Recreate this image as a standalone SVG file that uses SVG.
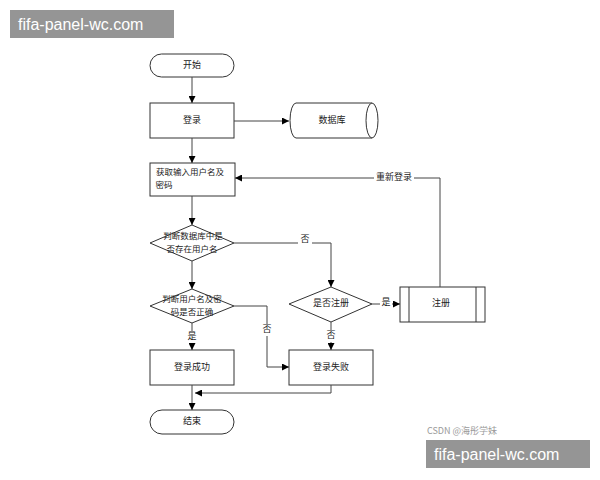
<svg xmlns="http://www.w3.org/2000/svg" width="600" height="480" viewBox="0 0 600 480">
<defs>
<marker id="a" viewBox="0 0 10 10" refX="10" refY="5" markerWidth="7" markerHeight="7" orient="auto"><path d="M0,0 L10,5 L0,10 z" fill="#000"/></marker>
<style>
.s{fill:#fff;stroke:#333;stroke-width:1}
.t{font-family:"Noto Sans CJK SC","Liberation Sans",sans-serif;font-size:9px;fill:#222;text-anchor:middle;dominant-baseline:middle}
.u{font-size:8.5px}
.c{fill:none;stroke:#444;stroke-width:1;marker-end:url(#a)}
.w{font-family:"Liberation Sans",sans-serif;font-size:16px;fill:#fff}
</style>
</defs>
<rect width="600" height="480" fill="#fff"/>
<g id="start"><rect class="s" x="150" y="54" width="84" height="23" rx="11.5"/><text class="t" x="192" y="66">开始</text></g>
<g id="login"><rect class="s" x="150" y="103" width="84" height="35"/><text class="t" x="192" y="121">登录</text></g>
<g id="db"><path class="s" d="M296,103 H372 A6,17.5 0 0 1 372,138 H296 A6,17.5 0 0 1 296,103 Z"/><path class="s" d="M372,103 A6,17.5 0 0 0 372,138" fill="none"/><text class="t" x="332" y="121">数据库</text></g>
<g id="input"><rect class="s" x="150" y="163" width="85" height="33"/><text class="t u" x="190" y="173">获取输入用户名及</text><text class="t u" x="164" y="186">密码</text></g>
<g id="d1"><polygon class="s" points="150,243 192,225 234,243 192,261"/><text class="t u" x="193" y="237">判断数据库中是</text><text class="t u" x="192" y="250">否存在用户名</text></g>
<g id="d2"><polygon class="s" points="150,306 192,289 234,306 192,323"/><text class="t u" x="192" y="300">判断用户名及密</text><text class="t u" x="192" y="313">码是否正确</text></g>
<g id="ok"><rect class="s" x="150" y="350" width="84" height="35"/><text class="t" x="192" y="368">登录成功</text></g>
<g id="end"><rect class="s" x="150" y="410" width="84" height="24" rx="12"/><text class="t" x="192" y="422">结束</text></g>
<g id="d3"><polygon class="s" points="289,304 331,287 372,304 331,322"/><text class="t" x="331" y="304">是否注册</text></g>
<g id="fail"><rect class="s" x="289" y="350" width="84" height="35"/><text class="t" x="331" y="368">登录失败</text></g>
<g id="reg"><rect class="s" x="400" y="287" width="85" height="35"/><line class="s" x1="409" y1="287" x2="409" y2="322"/><line class="s" x1="476" y1="287" x2="476" y2="322"/><text class="t" x="441" y="304">注册</text></g>
<g id="connectors">
<path class="c" d="M192,77 V103"/>
<path class="c" d="M234,121 H289"/>
<path class="c" d="M192,138 V163"/>
<path class="c" d="M192,196 V225"/>
<path class="c" d="M234,243 H331 V287"/>
<path class="c" d="M192,261 V289"/>
<path class="c" d="M372,304 H400"/>
<path class="c" d="M440,287 V178 H235"/>
<path class="c" d="M234,306 H267 V367 H289"/>
<path class="c" d="M192,323 V350"/>
<path class="c" d="M331,322 V350"/>
<path class="c" d="M331,385 V393 H195"/>
<path class="c" d="M192,385 V410"/>
</g>
<g id="labels">
<rect x="298" y="234" width="14" height="12" fill="#fff"/><text class="t" x="305" y="240">否</text>
<rect x="380" y="297" width="12" height="12" fill="#fff"/><text class="t" x="386" y="303">是</text>
<rect x="374" y="172" width="40" height="12" fill="#fff"/><text class="t" x="394" y="178">重新登录</text>
<rect x="260" y="324" width="14" height="12" fill="#fff"/><text class="t" x="267" y="330">否</text>
<rect x="185" y="331" width="14" height="12" fill="#fff"/><text class="t" x="192" y="337">是</text>
<rect x="324" y="330" width="14" height="12" fill="#fff"/><text class="t" x="331" y="336">否</text>
</g>
<text x="427" y="434" style="font-family:'Noto Sans CJK SC','Liberation Sans',sans-serif;font-size:9px;fill:#999">CSDN @海彤学妹</text>
<rect x="10" y="10" width="164" height="28" fill="#8a8a8a" opacity="0.9"/><text class="w" x="18" y="30">fifa-panel-wc.com</text>
<rect x="426" y="440" width="164" height="28" fill="#8a8a8a" opacity="0.9"/><text class="w" x="434" y="460">fifa-panel-wc.com</text>
</svg>
